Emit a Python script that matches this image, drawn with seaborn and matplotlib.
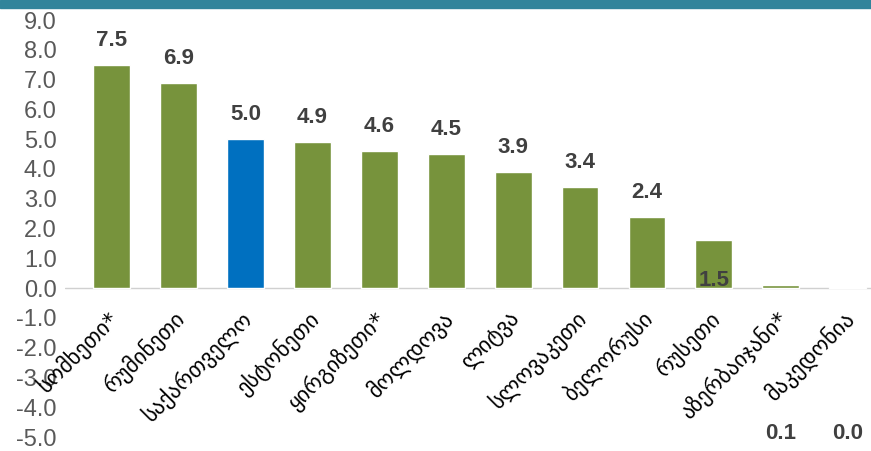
import matplotlib
matplotlib.use("Agg")
import matplotlib.pyplot as plt
from matplotlib.patches import Rectangle
import seaborn as sns
import pandas as pd

countries = ["სომხეთი*", "რუმინეთი", "საქართველო", "ესტონეთი", "ყირგიზეთი*",
             "მოლდოვა", "ლიტვა", "სლოვაკეთი", "ბელორუსი", "რუსეთი",
             "აზერბაიჯანი*", "მაკედონია"]
growth = [7.5, 6.9, 5.0, 4.9, 4.6, 4.5, 3.9, 3.4, 2.4, 1.6, 0.1, 0.03]
shown = ["7.5", "6.9", "5.0", "4.9", "4.6", "4.5", "3.9", "3.4", "2.4", "1.5", "0.1", "0.0"]
yticks = [-5, -4, -3, -2, -1, 0, 1, 2, 3, 4, 5, 6, 7, 8, 9]

GREEN = "#77933C"
BLUE = "#0070C0"
bar_colors = [BLUE if c == "საქართველო" else GREEN for c in countries]
bar_colors[-1] = "#A6A6A6"

# the original puts a few value labels away from their bars
label_override = {9: 0.27, 10: -4.87, 11: -4.87}

sns.set_style("white")
plt.rcParams["font.family"] = ["Liberation Sans", "DejaVu Sans"]

df = pd.DataFrame({"country": countries, "value": growth})

fig = plt.figure(figsize=(8.71, 4.51), dpi=100)
W, H = 871, 451
ax = fig.add_axes([65 / W, 14 / H, (871 - 65) / W, (437 - 20) / H])

sns.barplot(data=df, x="country", y="value", hue="country", palette=bar_colors,
            legend=False, width=0.55, ax=ax, saturation=1)

ax.set_ylim(-5, 9)
ax.set_xlim(-0.7, 11.35)
ax.set_yticks(yticks)
ax.set_yticklabels([f"{v:.1f}" for v in yticks], color="#595959", fontsize=17)
ax.tick_params(axis="y", length=0, pad=6)
ax.set_xticks([])
ax.set_xlabel("")
ax.set_ylabel("")
for s in ax.spines.values():
    s.set_visible(False)
ax.axhline(0, color="#D0D0D0", lw=1, zorder=0)

for i, (v, txt) in enumerate(zip(growth, shown)):
    if i in label_override:
        ax.text(i, label_override[i], txt, ha="center", va="center",
                fontsize=16, fontweight="bold", color="#404040")
    else:
        ax.annotate(txt, (i, v), xytext=(0, 10), textcoords="offset points",
                    ha="center", va="bottom", fontsize=16, fontweight="bold",
                    color="#404040")

for i, c in enumerate(countries):
    ax.text(i + 0.05, -0.9, c, rotation=45, rotation_mode="anchor",
            ha="right", va="center", fontsize=16, color="#000000",
            family=["DejaVu Sans"])

fig.patches.append(Rectangle((0, 1 - 8 / H), 1, 8 / H, transform=fig.transFigure,
                             color="#31849B", zorder=10))

fig.savefig("out.png", dpi=100)
